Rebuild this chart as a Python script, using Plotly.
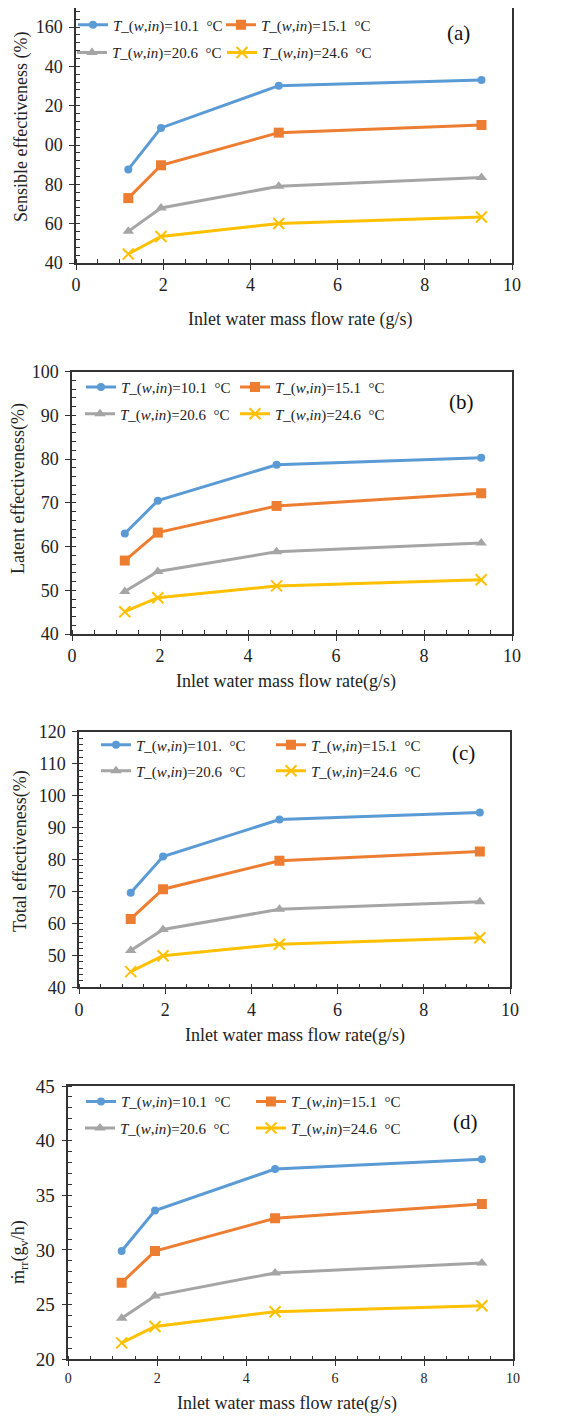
import plotly.graph_objects as go

# ---------------- data ----------------
flow_rate = [1.2, 1.95, 4.65, 9.3]

sensible_101 = [87.6, 108.7, 130.2, 133.1]
sensible_151 = [73.0, 89.7, 106.3, 110.2]
sensible_206 = [56.1, 68.0, 79.0, 83.5]
sensible_246 = [44.6, 53.5, 60.1, 63.4]

latent_101 = [63.0, 70.5, 78.7, 80.3]
latent_151 = [56.8, 63.2, 69.3, 72.2]
latent_206 = [49.7, 54.3, 58.8, 60.8]
latent_246 = [45.1, 48.3, 51.0, 52.4]

total_101 = [69.6, 80.9, 92.5, 94.7]
total_151 = [61.4, 70.7, 79.6, 82.5]
total_206 = [51.5, 58.1, 64.4, 66.8]
total_246 = [44.9, 49.9, 53.5, 55.5]

mrr_101 = [29.9, 33.6, 37.4, 38.3]
mrr_151 = [27.0, 29.9, 32.9, 34.2]
mrr_206 = [23.75, 25.8, 27.9, 28.8]
mrr_246 = [21.5, 23.0, 24.35, 24.9]

temp_labels = ["10.1", "15.1", "20.6", "24.6"]
temp_labels_c = ["101.", "15.1", "20.6", "24.6"]

sens_ticks = [40, 60, 80, 100, 120, 140, 160]
sens_ticktext = ["40", "60", "80", "00", "20", "40", "160"]

# ---------------- style ----------------
OFF = 8                      # page body margin of the html page
W, H = 561 - OFF, 1416 - OFF
FONT = "'Liberation Serif', 'Times New Roman', 'DejaVu Serif', serif"
colors = ["#5B9BD5", "#ED7D31", "#A5A5A5", "#FFC000"]
symbols = ["circle", "square", "triangle-up", "x-thin"]
msizes = [8, 10, 10, 11]


def sx(p):
    """screen pixel x -> paper fraction"""
    return min(max((p - OFF) / W, 0.0), 1.0)


def sy(p):
    """screen pixel y -> paper fraction"""
    return min(max(1 - (p - OFF) / H, 0.0), 1.0)


def leg_name(t):
    return "<i>T</i>_(<i>w</i>,<i>in</i>)=" + t + "\u00a0\u00a0°C"


panels = [
    dict(series=[sensible_101, sensible_151, sensible_206, sensible_246], labels=temp_labels,
         xd=(76, 512), yd=(8, 263), yr=[40, 169.7], tv=sens_ticks, tt=sens_ticktext, ydt=20, ymin=4,
         leg=[(79, 25), (227, 25), (78, 52.7), (228, 52.7)], tag="(a)", tagpos=(458, 33),
         xt="Inlet water mass flow rate (g/s)", xtpos=(300, 320),
         yt="Sensible effectiveness (%)", ytpos=(22, 127), xtf=18, ytf=18),
    dict(series=[latent_101, latent_151, latent_206, latent_246], labels=temp_labels,
         xd=(72, 512), yd=(371.7, 634), yr=[40, 100], tv=None, tt=None, ydt=10, ymin=2,
         leg=[(87, 387.3), (241, 387.3), (86, 414), (241, 414)], tag="(b)", tagpos=(461, 401.7),
         xt="Inlet water mass flow rate(g/s)", xtpos=(286, 681.7),
         yt="Latent effectiveness(%)", ytpos=(19, 489), xtf=18, ytf=18),
    dict(series=[total_101, total_151, total_206, total_246], labels=temp_labels_c,
         xd=(79, 510), yd=(731.7, 987.3), yr=[40, 120], tv=None, tt=None, ydt=10, ymin=2,
         leg=[(102, 745), (277, 745), (102, 771), (277, 771)], tag="(c)", tagpos=(463, 753),
         xt="Inlet water mass flow rate(g/s)", xtpos=(295, 1035),
         yt="Total effectiveness(%)", ytpos=(20, 851), xtf=18, ytf=18),
    dict(series=[mrr_101, mrr_151, mrr_206, mrr_246], labels=temp_labels,
         xd=(68.3, 513), yd=(1086, 1359.3), yr=[20, 45], tv=None, tt=None, ydt=5, ymin=1,
         leg=[(87, 1101.7), (257, 1101.7), (86, 1128.3), (257, 1128.3)], tag="(d)",
         tagpos=(465, 1121.7),
         xt="Inlet water mass flow rate(g/s)", xtpos=(287, 1403),
         yt="ṁ<sub>rr</sub>(g<sub>v</sub>/h)", ytpos=(19, 1252), xtf=14, ytf=19),
]

fig = go.Figure()
annotations = []
layout_upd = {}
LEG_INNER = 6  # distance from legend box left edge to start of the swatch line

for i, p in enumerate(panels):
    n = i + 1
    xa = "x" if n == 1 else f"x{n}"
    ya = "y" if n == 1 else f"y{n}"
    xkey = "xaxis" if n == 1 else f"xaxis{n}"
    ykey = "yaxis" if n == 1 else f"yaxis{n}"

    for k in range(4):
        leg_id = 4 * i + k + 1
        lkey = "legend" if leg_id == 1 else f"legend{leg_id}"
        mk = dict(symbol=symbols[k], size=msizes[k], color=colors[k])
        if symbols[k] == "x-thin":
            mk["line"] = dict(width=2, color=colors[k])
        fig.add_trace(go.Scatter(
            x=flow_rate, y=p["series"][k], mode="lines+markers",
            name=leg_name(p["labels"][k]),
            line=dict(color=colors[k], width=3),
            marker=mk, xaxis=xa, yaxis=ya, legend=lkey,
        ))
        lx, ly = p["leg"][k]
        layout_upd[lkey] = dict(orientation="h", x=sx(lx - LEG_INNER), xanchor="left",
                                y=sy(ly), yanchor="middle", bgcolor="rgba(0,0,0,0)",
                                font=dict(family=FONT, size=15, color="#222222"),
                                itemwidth=30)

    axis_common = dict(showline=True, linecolor="#333333", linewidth=1.5, mirror=True,
                       showgrid=False, zeroline=False, ticks="outside", ticklen=5,
                       tickcolor="#333333", tickwidth=1.2, automargin=False)
    layout_upd[xkey] = dict(axis_common, domain=[sx(p["xd"][0]), sx(p["xd"][1])],
                            range=[0, 10], tickvals=[0, 2, 4, 6, 8, 10], anchor=ya,
                            tickfont=dict(family=FONT, size=p["xtf"], color="#222222"),
                            minor=dict(dtick=0.5, ticks="inside", ticklen=4,
                                       tickcolor="#333333", tickwidth=1))
    yax = dict(axis_common, domain=[sy(p["yd"][1]), sy(p["yd"][0])],
               range=p["yr"], anchor=xa, ticklabelstandoff=3,
               tickfont=dict(family=FONT, size=p["ytf"], color="#222222"),
               minor=dict(dtick=p["ymin"], ticks="inside", ticklen=4,
                          tickcolor="#333333", tickwidth=1))
    if p["tv"] is not None:
        yax["tickvals"] = p["tv"]
        yax["ticktext"] = p["tt"]
    else:
        yax["dtick"] = p["ydt"]
    layout_upd[ykey] = yax

    common_ann = dict(xref="paper", yref="paper", showarrow=False,
                      xanchor="center", yanchor="middle")
    annotations.append(dict(common_ann, text=p["tag"], x=sx(p["tagpos"][0]),
                            y=sy(p["tagpos"][1]),
                            font=dict(family=FONT, size=21, color="#111111")))
    annotations.append(dict(common_ann, text=p["xt"], x=sx(p["xtpos"][0]),
                            y=sy(p["xtpos"][1]),
                            font=dict(family=FONT, size=18, color="#222222")))
    annotations.append(dict(common_ann, text=p["yt"], x=sx(p["ytpos"][0]),
                            y=sy(p["ytpos"][1]), textangle=-90,
                            font=dict(family=FONT, size=18, color="#222222")))

fig.update_layout(width=W, height=H,
                  margin=dict(l=0, r=0, t=0, b=0, pad=0, autoexpand=False),
                  font=dict(family=FONT),
                  paper_bgcolor="white", plot_bgcolor="white",
                  showlegend=True, annotations=annotations, **layout_upd)

fig.write_html("out.html")
